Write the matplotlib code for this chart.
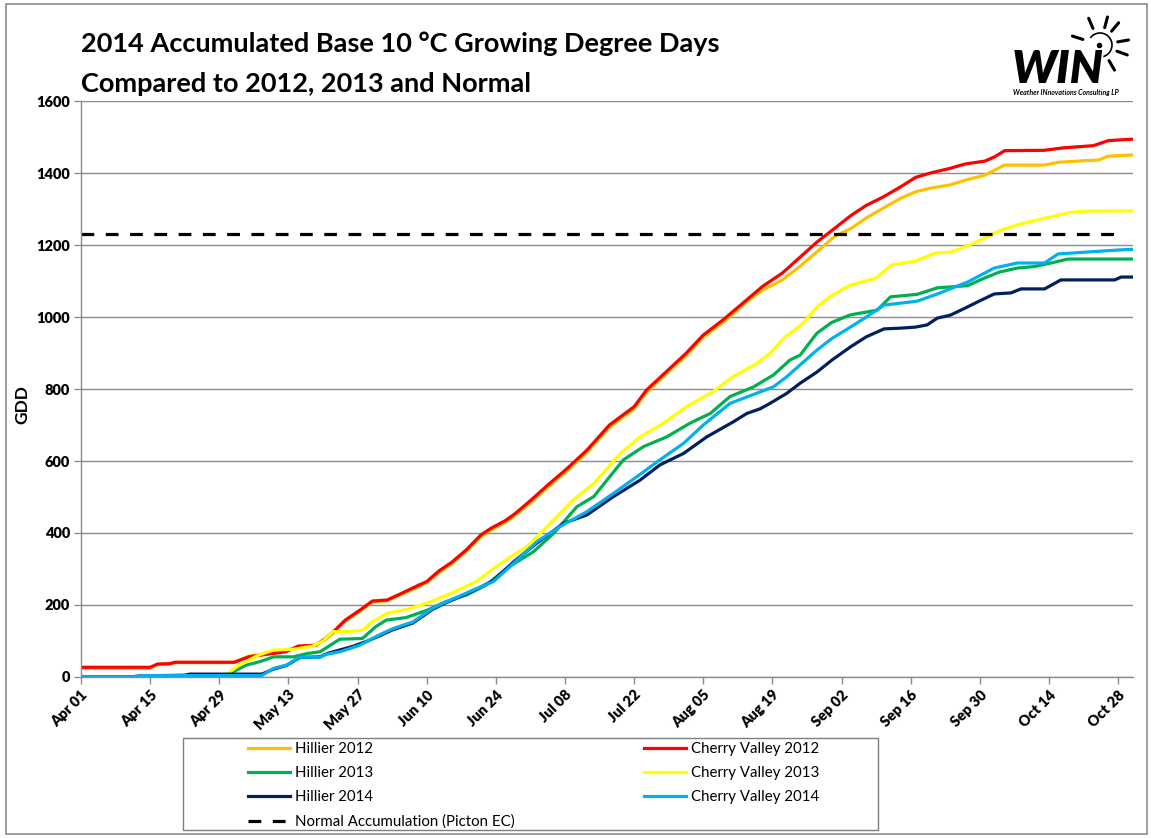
import numpy as np
import pandas as pd
import matplotlib
matplotlib.use('Agg')
import matplotlib.pyplot as plt
from matplotlib.patches import Rectangle

plt.rcParams['font.family'] = ['Lato', 'DejaVu Sans']

START = pd.Timestamp('2014-04-01')

# GDD readings, days counted from Apr 01
hillier_2012_day = [0, 14, 15.5, 18, 19, 31, 34, 37.5, 41.5, 44, 47.5, 49.5, 51.5, 53.5, 56.5, 59, 62, 65,
                    68.5, 70, 72.5, 75, 78, 81, 83, 86, 88, 91, 94.5, 98.5, 102.5, 107, 112, 114.5, 118.5,
                    122.5, 126, 130, 135, 138, 142, 145.5, 149, 152.4, 156, 159, 162.5, 166, 169, 172, 176,
                    179, 183, 185, 187, 195, 198, 203, 206, 208, 213]
hillier_2012_gdd = [24, 24, 35, 36, 40, 40, 58, 64, 72, 84, 88, 104, 128, 155, 183, 208, 212, 230,
                    252, 262, 290, 314, 349, 390, 408, 430, 450, 484, 527, 574, 625, 694, 745, 791, 842,
                    893, 944, 985, 1045, 1075, 1103, 1140, 1181, 1222, 1247, 1275, 1303, 1330, 1348, 1358, 1367,
                    1380, 1394, 1408, 1422, 1422, 1430, 1434, 1436, 1447, 1450]

cherry_2012_day = [0, 14, 15.5, 18, 19, 31, 34, 37.5, 41.5, 44, 47.5, 49.5, 51.5, 53.5, 56.5, 59, 62, 65,
                   68.5, 70, 72.5, 75, 78, 81, 83, 86, 88, 91, 94.5, 98.5, 102.5, 107, 112, 114.5, 118.5,
                   122.5, 126, 130, 135, 138, 142, 145.5, 149, 152, 156, 159, 162.5, 166, 169, 172, 176,
                   179, 183, 185, 187, 195, 199, 205, 208, 213]
cherry_2012_gdd = [27, 27, 36, 37, 41, 41, 56, 63, 70, 86, 88, 107, 131, 158, 186, 211, 214, 233,
                   256, 265, 295, 318, 353, 395, 413, 435, 455, 490, 533, 580, 631, 700, 751, 797, 848,
                   899, 950, 992, 1050, 1085, 1122, 1165, 1208, 1240, 1283, 1310, 1334, 1362, 1388, 1400, 1413,
                   1425, 1433, 1445, 1462, 1463, 1470, 1476, 1490, 1494]

hillier_2013_day = [0, 28, 30, 33.5, 36.3, 39, 43, 45.7, 48.4, 52.4, 57, 59.7, 61.8, 65.8, 70, 74, 78.1,
                    82.1, 86.2, 91.6, 95.7, 100.4, 103.8, 109.8, 113.9, 118.6, 123.3, 127.4, 131.4, 136.2,
                    140.2, 143.6, 145.6, 149, 152, 155.8, 161.2, 163.9, 169.3, 173.4, 179.5, 182.9, 186,
                    189.6, 193, 196.4, 199.8, 213]
hillier_2013_gdd = [0, 0, 9, 33, 43, 56, 56, 65, 70, 105, 107, 140, 158, 165, 185, 210, 228,
                    256, 302, 348, 399, 473, 501, 603, 640, 667, 705, 732, 779, 806,
                    839, 881, 894, 955, 985, 1006, 1019, 1056, 1063, 1081, 1087, 1108, 1125,
                    1136, 1140, 1150, 1161, 1161]

cherry_2013_day = [0, 28, 29.5, 32, 36, 39, 43, 47, 49, 51, 54, 57, 59, 62, 66, 70, 74.8, 80, 84, 87,
                   90.3, 95, 99.7, 103.8, 109.2, 113.2, 117.9, 122.6, 128, 132, 136.8, 139.5, 142.5, 146,
                   149, 152, 155.8, 161, 164, 169, 173, 176, 179, 183, 186, 189.6, 193, 196.4, 200, 203, 213]
cherry_2013_gdd = [0, 0, 8, 33, 61, 75, 77, 86, 100, 126, 126, 130, 154, 177, 188, 205, 232, 265, 306, 334,
                   362, 427, 492, 537, 621, 667, 705, 751, 793, 834, 871, 899, 944, 980,
                   1028, 1060, 1089, 1108, 1144, 1156, 1178, 1180, 1195, 1219, 1240, 1256, 1268, 1278, 1290,
                   1294, 1295]

hillier_2014_day = [0, 10, 12, 21, 22, 36.6, 39, 41.6, 44.3, 48.4, 50, 52.4, 55, 58, 60.4, 63.1, 67.2,
                    71.2, 73.4, 79.5, 83.5, 87.6, 92.3, 97.7, 102.4, 107.8, 113.2, 117.2, 122, 126.7, 132.1,
                    134.8, 137.5, 139.5, 142.9, 145.6, 149, 152, 155.8, 159, 162.6, 165.9, 169, 171.3,
                    173.4, 176, 179.5, 182, 184.9, 188.3, 190.3, 195.1, 198.4, 209.3, 210.6, 213]
hillier_2014_gdd = [0, 0, 3, 5, 8, 8, 22, 32, 54, 56, 66, 75, 85, 100, 114, 131, 150,
                    188, 203, 240, 268, 320, 372, 427, 450, 501, 547, 589, 621, 667, 709,
                    732, 745, 760, 788, 816, 847, 880, 917, 945, 967, 969, 972, 978,
                    997, 1005, 1028, 1045, 1064, 1067, 1078, 1078, 1103, 1103, 1111, 1111]

cherry_2014_day = [0, 10, 12.6, 36.6, 39, 41.6, 44.3, 48.4, 49.7, 52.4, 56.4, 60.4, 63.1, 67.2, 71.2,
                   73.4, 79.5, 83.5, 87.6, 92.3, 97, 102.4, 107.8, 112.5, 117.2, 122, 126, 131.4, 136,
                   140.2, 142.9, 145.6, 149, 152, 155.8, 159, 162.6, 169.3, 173.4, 179.5, 184.9, 189.6,
                   195.1, 197.8, 203.2, 209.9, 213]
cherry_2014_gdd = [0, 0, 4, 4, 24, 33, 55, 55, 63, 70, 88, 117, 134, 153, 191,
                   205, 242, 265, 316, 376, 418, 459, 510, 556, 603, 649, 700, 760, 784,
                   806, 834, 867, 908, 940, 972, 1000, 1033, 1044, 1064, 1097, 1136, 1150,
                   1150, 1175, 1180, 1186, 1188]

normal_day = [0, 211]
normal_gdd = [1230, 1230]

series = [
    ('Hillier 2012', hillier_2012_day, hillier_2012_gdd, '#FFC000'),
    ('Cherry Valley 2012', cherry_2012_day, cherry_2012_gdd, '#FF0000'),
    ('Hillier 2013', hillier_2013_day, hillier_2013_gdd, '#00B050'),
    ('Cherry Valley 2013', cherry_2013_day, cherry_2013_gdd, '#FFFF00'),
    ('Hillier 2014', hillier_2014_day, hillier_2014_gdd, '#002060'),
    ('Cherry Valley 2014', cherry_2014_day, cherry_2014_gdd, '#00B0F0'),
]

y_ticks = [0, 200, 400, 600, 800, 1000, 1200, 1400, 1600]
x_tick_dates = pd.date_range('2014-04-01', '2014-10-28', freq='14D')
x_tick_labels = ['Apr 01', 'Apr 15', 'Apr 29', 'May 13', 'May 27', 'Jun 10', 'Jun 24', 'Jul 08',
                 'Jul 22', 'Aug 05', 'Aug 19', 'Sep 02', 'Sep 16', 'Sep 30', 'Oct 14', 'Oct 28']


def to_dates(days):
    return START + pd.to_timedelta(np.array(days, dtype=float), unit='D')


W, H = 1151, 838
fig = plt.figure(figsize=(W / 100, H / 100), dpi=100)
ax = fig.add_axes([81 / W, 1 - 677 / H, (1133 - 81) / W, (677 - 101) / H])

handles = {}
for name, d, g, c in series:
    ln, = ax.plot(to_dates(d), g, color=c, lw=2.3, solid_joinstyle='round')
    handles[name] = ln
nl, = ax.plot(to_dates(normal_day), normal_gdd, color='black', lw=2.3, dashes=(4, 3.6))
handles['Normal Accumulation (Picton EC)'] = nl

ax.set_xlim(START, START + pd.Timedelta(days=213))
ax.set_ylim(0, 1600)
ax.set_yticks(y_ticks)
ax.set_yticklabels([str(v) for v in y_ticks], fontweight='heavy', fontsize=10.5)
ax.set_xticks(x_tick_dates)
ax.set_xticklabels(x_tick_labels, fontweight='heavy', fontsize=10.5, rotation=45,
                   ha='right', rotation_mode='anchor')

grid_c = '#8C8C8C'
ax.grid(axis='y', color=grid_c, lw=1)
ax.set_axisbelow(True)
for s in ['top', 'right']:
    ax.spines[s].set_visible(False)
for s in ['left', 'bottom']:
    ax.spines[s].set_color(grid_c)
    ax.spines[s].set_linewidth(1)
ax.tick_params(axis='both', color=grid_c, length=5, width=1, pad=3)

fig.text(22 / W, 1 - 405 / H, 'GDD', fontsize=12.5, fontweight='bold', rotation=90,
         ha='center', va='center')

fig.text(81 / W, 1 - 31 / H,
         '2014 Accumulated Base 10 °C Growing Degree Days\nCompared to 2012, 2013 and Normal',
         fontsize=19.5, fontweight='bold', va='top', ha='left', linespacing=1.8)

# legend box
fig.patches.append(Rectangle((183 / W, 1 - 830 / H), (878 - 183) / W, (830 - 738) / H,
                             transform=fig.transFigure, fill=False, edgecolor='#7F7F7F', lw=1))
order = ['Hillier 2012', 'Hillier 2013', 'Hillier 2014', 'Normal Accumulation (Picton EC)',
         'Cherry Valley 2012', 'Cherry Valley 2013', 'Cherry Valley 2014']
fig.legend([handles[k] for k in order], order, ncol=2, frameon=False,
           loc='upper left', bbox_to_anchor=(248 / W, 1 - 742 / H),
           bbox_transform=fig.transFigure, fontsize=10.8, borderpad=0, borderaxespad=0,
           handlelength=2.8, handletextpad=0.35, columnspacing=8.6, labelspacing=0.68)

# outer border
fig.patches.append(Rectangle((6 / W, 1 - 834 / H), (1147 - 6) / W, (834 - 4) / H,
                             transform=fig.transFigure, fill=False, edgecolor='#8C8C8C', lw=1.2))

# logo
lg = fig.add_axes([1000 / W, 1 - 100 / H, 150 / W, 95 / H])
lg.set_xlim(1000, 1150)
lg.set_ylim(100, 5)
lg.axis('off')
lg.text(1012, 83, 'WIN', fontsize=33, fontweight='heavy', style='italic', ha='left', va='baseline')
lg.text(1013, 93, 'Weather INnovations Consulting LP', fontsize=5, fontweight='bold',
        style='italic', ha='left', va='center')
cx, cy, r = 1100, 45, 12
th = np.radians(np.linspace(-70, 140, 40))
lg.plot(cx + r * np.cos(th), cy - r * np.sin(th), color='black', lw=1.2)
lg.plot([cx - 1], [cy], 'o', color='black', ms=3)
for a in [75, 113, 50, 10, -20, -60, 162]:
    t = np.radians(a)
    lg.plot([cx + 18 * np.cos(t), cx + 29 * np.cos(t)], [cy - 18 * np.sin(t), cy - 29 * np.sin(t)],
            color='black', lw=2.2, solid_capstyle='round')

fig.savefig('out.png', dpi=100)
